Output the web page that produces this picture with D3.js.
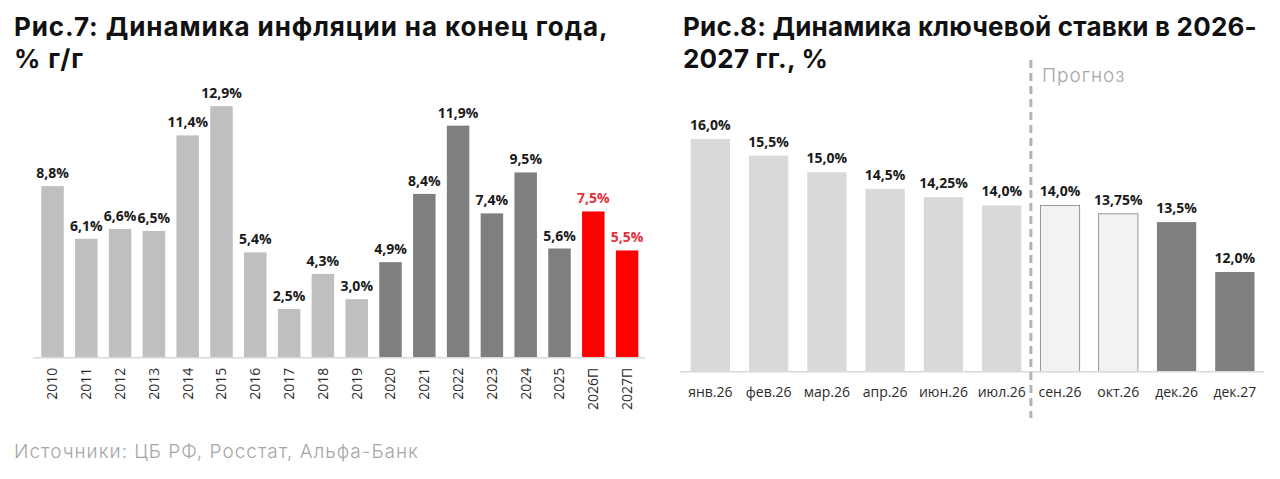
<!DOCTYPE html>
<html lang="ru">
<head>
<meta charset="UTF-8">
<title>Инфляция и ключевая ставка</title>
<script src="https://cdn.jsdelivr.net/npm/d3@7"></script>
<style>
    body { margin: 0; background: #fff; }
    svg { display: block; }
    .title { font-family: Inter, "Noto Sans", sans-serif; font-weight: 700; font-size: 26px; letter-spacing: 0.9px; fill: #111; }
    .title.right { letter-spacing: 0.2px; }
    .val { font-family: "Open Sans", sans-serif; font-weight: 700; font-size: 14px; fill: #1a1a1a; }
    .tick text { font-family: "Open Sans", sans-serif; font-size: 14px; fill: #2b2b2b; }
    .note { font-family: Inter, "Noto Sans", sans-serif; font-weight: 300; font-size: 19px; letter-spacing: 1px; fill: #a6a6a6; }
</style>
</head>
<body>
<div id="chart"></div>
<script>
// Рис.7 — инфляция на конец года
const years = ["2010","2011","2012","2013","2014","2015","2016","2017","2018","2019",
               "2020","2021","2022","2023","2024","2025","2026П","2027П"];
const inflation = [8.8, 6.1, 6.6, 6.5, 11.4, 12.9, 5.4, 2.5, 4.3, 3.0,
                   4.9, 8.4, 11.9, 7.4, 9.5, 5.6, 7.5, 5.5];
const inflationGroup = ["old","old","old","old","old","old","old","old","old","old",
                        "new","new","new","new","new","new","fc","fc"];

// Рис.8 — ключевая ставка
const months = ["янв.26","фев.26","мар.26","апр.26","июн.26","июл.26","сен.26","окт.26","дек.26","дек.27"];
const keyRate = [16.0, 15.5, 15.0, 14.5, 14.25, 14.0, 14.0, 13.75, 13.5, 12.0];
const keyRateLabels = ["16,0%","15,5%","15,0%","14,5%","14,25%","14,0%","14,0%","13,75%","13,5%","12,0%"];
const keyRateGroup = ["fact","fact","fact","fact","fact","fact","soft","soft","hard","hard"];

const W = 1280, H = 479;
const svg = d3.select("#chart").append("svg").attr("width", W).attr("height", H);

const fmt = v => d3.format(".1f")(v).replace(".", ",") + "%";

// ---------- левый график ----------
const x1 = d3.scaleBand().domain(years).range([35.6, 644]).paddingInner(0.335).paddingOuter(0.1675);
const y1 = d3.scaleLinear().domain([0, 14]).range([357.7, 357.7 - 14 * 19.5]);
const col1 = { old: "#bfbfbf", new: "#7f7f7f", fc: "#ff0000" };

const g1 = svg.append("g");
g1.selectAll("rect").data(years).join("rect")
    .attr("x", d => x1(d))
    .attr("width", x1.bandwidth())
    .attr("y", (d, i) => y1(inflation[i]))
    .attr("height", (d, i) => y1(0) - y1(inflation[i]))
    .attr("fill", (d, i) => col1[inflationGroup[i]]);

g1.selectAll("text.val").data(years).join("text")
    .attr("class", "val")
    .attr("x", d => x1(d) + x1.bandwidth() / 2)
    .attr("y", (d, i) => y1(inflation[i]) - 8)
    .attr("text-anchor", "middle")
    .style("fill", (d, i) => inflationGroup[i] === "fc" ? "#e8303a" : null)
    .text((d, i) => fmt(inflation[i]));

const ax1 = g1.append("g").attr("transform", `translate(0,${y1(0)})`)
    .call(d3.axisBottom(x1).tickSize(0).tickPadding(0));
ax1.select(".domain").attr("stroke", "#d9d9d9").attr("stroke-width", 1.5).attr("d", "M33,0H645");
ax1.selectAll(".tick text")
    .attr("transform", "rotate(-90)")
    .attr("text-anchor", "end")
    .attr("x", -10)
    .attr("y", 0)
    .attr("dy", "0.35em");

svg.append("text").attr("class", "title").attr("x", 14).attr("y", 36).text("Рис.7: Динамика инфляции на конец года,");
svg.append("text").attr("class", "title").attr("x", 14).attr("y", 68).text("% г/г");
svg.append("text").attr("class", "note").attr("x", 14).attr("y", 458).text("Источники: ЦБ РФ, Росстат, Альфа-Банк");

// ---------- правый график ----------
const x2 = d3.scaleBand().domain(months).range([681.2, 1264]).paddingInner(0.326).paddingOuter(0.163);
const y2 = d3.scaleLinear().domain([9, 16]).range([371.7, 139]);
const col2 = { fact: "#d9d9d9", soft: "#f2f2f2", hard: "#7f7f7f" };

const g2 = svg.append("g");
g2.selectAll("rect").data(months).join("rect")
    .attr("x", d => x2(d))
    .attr("width", x2.bandwidth())
    .attr("y", (d, i) => y2(keyRate[i]))
    .attr("height", (d, i) => y2(9) - y2(keyRate[i]))
    .attr("fill", (d, i) => col2[keyRateGroup[i]])
    .attr("stroke", (d, i) => keyRateGroup[i] === "soft" ? "#7f7f7f" : "none")
    .attr("stroke-width", 0.8);

g2.selectAll("text.val").data(months).join("text")
    .attr("class", "val")
    .attr("x", d => x2(d) + x2.bandwidth() / 2)
    .attr("y", (d, i) => y2(keyRate[i]) - 9)
    .attr("text-anchor", "middle")
    .text((d, i) => keyRateLabels[i]);

const ax2 = g2.append("g").attr("transform", `translate(0,${y2(9)})`)
    .call(d3.axisBottom(x2).tickSize(0).tickPadding(15));
ax2.select(".domain").attr("stroke", "#d9d9d9").attr("stroke-width", 1.5).attr("d", "M680,0H1264");

// граница прогноза
const splitX = (x2("июл.26") + x2.bandwidth() + x2("сен.26")) / 2;
svg.append("line")
    .attr("x1", splitX).attr("x2", splitX)
    .attr("y1", 60).attr("y2", 418)
    .attr("stroke", "#b3b3b3").attr("stroke-width", 3)
    .attr("stroke-dasharray", "8,5");
svg.append("text").attr("class", "note").attr("x", splitX + 11).attr("y", 82).text("Прогноз");

svg.append("text").attr("class", "title right").attr("x", 683).attr("y", 36).text("Рис.8: Динамика ключевой ставки в 2026-");
svg.append("text").attr("class", "title right").attr("x", 683).attr("y", 68).text("2027 гг., %");
</script>
</body>
</html>
